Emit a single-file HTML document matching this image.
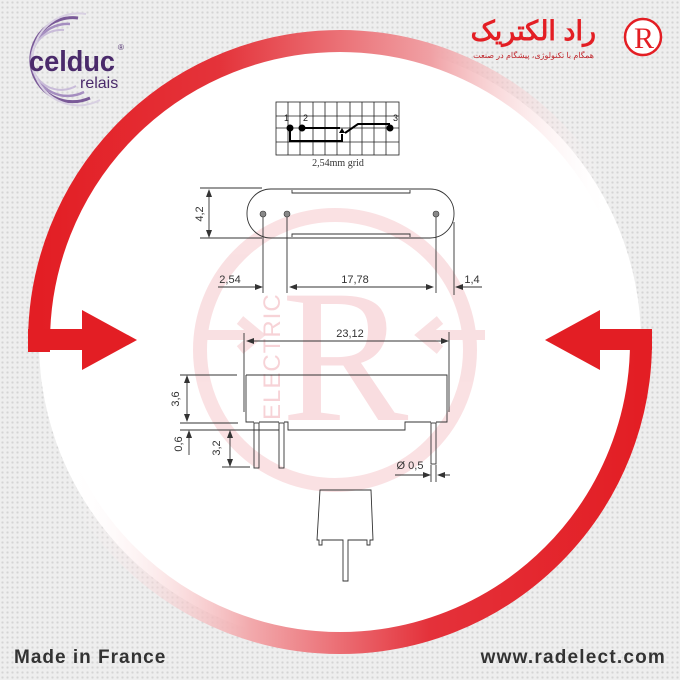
<!DOCTYPE html>
<html><head><meta charset="utf-8"><style>
html,body{margin:0;padding:0;}
body{width:680px;height:680px;overflow:hidden;background-color:#eeeeee;background-image:radial-gradient(circle,#d4d4d4 1px,transparent 1.3px);background-size:5px 5px;position:relative;font-family:"Liberation Sans",sans-serif;}
svg{position:absolute;left:0;top:0;}
.fa{position:absolute;direction:rtl;text-align:right;font-family:"Liberation Sans","WenQuanYi Zen Hei",sans-serif;white-space:nowrap;}
</style></head><body>
<svg width="680" height="680" viewBox="0 0 680 680" xmlns="http://www.w3.org/2000/svg">
<defs>
<linearGradient id="gTop" x1="39" y1="0" x2="641" y2="0" gradientUnits="userSpaceOnUse">
<stop offset="0" stop-color="#e31e24"/><stop offset="0.3" stop-color="#e4333a"/><stop offset="0.65" stop-color="#f0a0a4"/><stop offset="0.95" stop-color="#ffffff" stop-opacity="0"/></linearGradient>
<linearGradient id="gBot" x1="39" y1="0" x2="641" y2="0" gradientUnits="userSpaceOnUse">
<stop offset="0.05" stop-color="#ffffff" stop-opacity="0"/><stop offset="0.35" stop-color="#f2aaad"/><stop offset="0.65" stop-color="#e4313a"/><stop offset="1" stop-color="#e31e24"/></linearGradient>
</defs>
<circle cx="340" cy="342" r="301" fill="#fff"/>
<path d="M39,352 L39,342 A301,301 0 0 1 641,342" fill="none" stroke="url(#gTop)" stroke-width="22"/>
<path d="M39,342 A301,301 0 0 0 641,342 L641,330" fill="none" stroke="url(#gBot)" stroke-width="22"/>
<rect x="28" y="329" width="56" height="21" fill="#e31e24"/>
<polygon points="82,310 137,340 82,370" fill="#e31e24"/>
<rect x="598" y="329" width="54" height="21" fill="#e31e24"/>
<polygon points="600,310 545,340 600,370" fill="#e31e24"/>
<!-- watermark -->
<g opacity="0.35" fill="none" stroke="#f0a8ae">
<circle cx="335" cy="350" r="135" stroke-width="14"/>
<path d="M195,335 L255,335 M240,320 L258,335 L240,350" stroke-width="10"/>
<path d="M425,335 L485,335 M440,320 L422,335 L440,350" stroke-width="10"/>
</g>
<text x="345" y="420" font-family="Liberation Serif,serif" font-size="190" fill="#f9dde0" text-anchor="middle">R</text>
<text transform="translate(280,420) rotate(-90)" font-family="Liberation Sans,sans-serif" font-size="24" fill="#f7d3d7" letter-spacing="1">ELECTRIC</text>

<!-- celduc logo -->
<g fill="none">
<path d="M78,18 A42,42 0 1 0 90,98" stroke="#7a5a98" stroke-width="3"/>
<path d="M70,24 A36,36 0 1 0 84,92" stroke="#a58ec0" stroke-width="2.5"/>
<path d="M64,30 A30,30 0 1 0 76,86" stroke="#c9bcd9" stroke-width="2"/>
<path d="M86,14 A46,46 0 1 0 100,100" stroke="#d8d0e2" stroke-width="2"/>
</g>
<text x="29" y="71" font-family="Liberation Sans,sans-serif" font-weight="bold" font-size="29" fill="#4a2a6b" textLength="86" lengthAdjust="spacingAndGlyphs">celduc</text>
<text x="118" y="50" font-size="8" fill="#4a2a6b">®</text>
<text x="80" y="88" font-family="Liberation Sans,sans-serif" font-size="16" fill="#4a2a6b">relais</text>

<!-- rad electric R -->
<circle cx="643" cy="37" r="18" fill="#fff" stroke="#e31e24" stroke-width="2.5"/>
<text x="644" y="48" font-family="Liberation Serif,serif" font-size="30" fill="#e31e24" text-anchor="middle">R</text>

<!-- schematic grid -->
<g stroke="#222" stroke-width="0.8" fill="none">
<rect x="276" y="102" width="123" height="53"/>
<path d="M288,102V155M300,102V155M313,102V155M325,102V155M337,102V155M350,102V155M362,102V155M374,102V155M386,102V155"/>
<path d="M276,116H399M276,128H399M276,142H399"/>
</g>
<g stroke="#000" stroke-width="2" fill="none">
<path d="M302,128H340M345,133L358,124H390"/>
<path d="M290,128V141H342V134"/>
</g>
<polygon points="339,133 342,128 345,133" fill="#000"/>
<circle cx="290" cy="128" r="3.5" fill="#000"/><circle cx="302" cy="128" r="3.5" fill="#000"/><circle cx="390" cy="128" r="3.5" fill="#000"/>
<g font-family="Liberation Sans,sans-serif" font-size="9" fill="#222">
<text x="284" y="121">1</text><text x="303" y="121">2</text><text x="393" y="121">3</text></g>
<text x="338" y="166" font-family="Liberation Serif,serif" font-size="10" fill="#333" text-anchor="middle">2,54mm grid</text>

<!-- drawing -->
<g stroke="#333" stroke-width="0.9" fill="none">
<rect x="247" y="189" width="207" height="49" rx="24"/>
<path d="M292,190V193H410V190M292,193H410"/>
<path d="M292,237V234H410V237"/>
<path d="M200,188H262M200,238H262M209,192V235"/>
<path d="M263,216V293M287,216V293M436,216V293M454,222V295"/>
<path d="M218,287H261M291,287H432M482,287H457"/>
<path d="M244,333V412M449,332V412M249,341H446"/>
<path d="M246,375H447V422H436M246,375V422H254M259,422H279M284,422H288V430H405V422H431"/>
<rect x="254" y="423" width="5" height="45"/>
<rect x="279" y="423" width="5" height="45"/>
<rect x="431" y="423" width="5" height="41"/>
<path d="M180,375H237M180,423H238M187,379V419"/>
<path d="M180,430H279M189,434V455"/>
<path d="M222,467H250M230,434V463"/>
<path d="M395,475H429M450,475H439M431,465V482M436,465V482"/>
<path d="M320,490H371L373,540H370V545H367V540H348V581H343V540H322V545H319V540H317Z"/>
</g>
<g fill="#333">
<circle cx="263" cy="214" r="3" fill="#888" stroke="#333" stroke-width="0.6"/>
<circle cx="287" cy="214" r="3" fill="#888" stroke="#333" stroke-width="0.6"/>
<circle cx="436" cy="214" r="3" fill="#888" stroke="#333" stroke-width="0.6"/>
<polygon points="209,189 206,197 212,197"/><polygon points="209,238 206,230 212,230"/>
<polygon points="263,287 255,284 255,290"/>
<polygon points="289,287 297,284 297,290"/><polygon points="434,287 426,284 426,290"/>
<polygon points="455,287 463,284 463,290"/>
<polygon points="246,341 254,338 254,344"/><polygon points="449,341 441,338 441,344"/>
<polygon points="187,375 184,383 190,383"/><polygon points="187,422 184,414 190,414"/>
<polygon points="189,430 186,438 192,438"/>
<polygon points="230,430 227,438 233,438"/><polygon points="230,467 227,459 233,459"/>
<polygon points="431,475 423,472 423,478"/><polygon points="437,475 445,472 445,478"/>
</g>
<g font-family="Liberation Sans,sans-serif" font-size="11" fill="#333">
<text transform="translate(203,214) rotate(-90)" text-anchor="middle">4,2</text>
<text x="230" y="283" text-anchor="middle">2,54</text>
<text x="355" y="283" text-anchor="middle">17,78</text>
<text x="472" y="283" text-anchor="middle">1,4</text>
<text x="350" y="337" text-anchor="middle">23,12</text>
<text transform="translate(179,399) rotate(-90)" text-anchor="middle">3,6</text>
<text transform="translate(182,444) rotate(-90)" text-anchor="middle">0,6</text>
<text transform="translate(220,448) rotate(-90)" text-anchor="middle">3,2</text>
<text x="410" y="469" text-anchor="middle">Ø 0,5</text>
</g>
<text x="14" y="663" font-family="Liberation Sans,sans-serif" font-weight="bold" font-size="19" fill="#333" letter-spacing="1">Made in France</text>
<text x="666" y="663" font-family="Liberation Sans,sans-serif" font-weight="bold" font-size="19" fill="#333" letter-spacing="1.2" text-anchor="end">www.radelect.com</text>
</svg>
<div class="fa" style="right:84px;top:14px;font-size:27px;font-weight:bold;color:#e31e24;line-height:34px;">راد الکتریک</div>
<div class="fa" style="right:86px;top:51px;font-size:8px;color:#c0262c;line-height:10px;">همگام با تکنولوژی، پیشگام در صنعت</div>
</body></html>
